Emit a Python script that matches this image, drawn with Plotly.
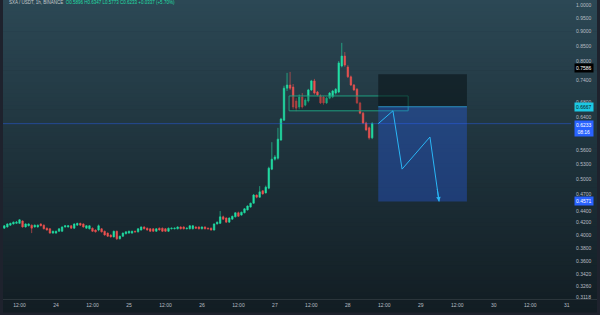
import plotly.graph_objects as go
import pandas as pd
import numpy as np

# ---------------- data (hourly candles) ----------------
open_ = [0.411,0.413,0.416,0.418,0.419,0.419,0.423,0.413,0.415,0.416,
         0.413,0.413,0.418,0.416,0.411,0.410,0.403,0.403,0.406,0.406,
         0.413,0.413,0.415,0.411,0.416,0.419,0.418,0.411,0.410,0.411,
         0.408,0.408,0.410,0.406,0.403,0.400,0.397,0.406,0.394,0.398,
         0.402,0.403,0.403,0.406,0.405,0.408,0.413,0.411,0.410,0.410,
         0.406,0.411,0.411,0.410,0.406,0.410,0.410,0.410,0.413,0.413,
         0.410,0.410,0.410,0.413,0.413,0.410,0.413,0.411,0.411,0.408,
         0.418,0.419,0.430,0.428,0.421,0.426,0.430,0.437,0.433,0.437,
         0.442,0.447,0.454,0.469,0.465,0.477,0.473,0.482,0.520,0.541,
         0.543,0.584,0.632,0.718,0.727,0.721,0.682,0.666,0.693,0.671,
         0.682,0.713,0.739,0.707,0.696,0.693,0.677,0.690,0.693,0.704,
         0.707,0.784,0.816,0.781,0.751,0.727,0.715,0.677,0.650,0.625,
         0.613,0.589]
high = [0.416,0.419,0.420,0.422,0.423,0.426,0.424,0.419,0.419,0.417,
        0.417,0.417,0.419,0.417,0.412,0.411,0.407,0.407,0.411,0.414,
        0.416,0.416,0.416,0.419,0.420,0.420,0.419,0.416,0.416,0.412,
        0.409,0.417,0.411,0.407,0.404,0.401,0.407,0.407,0.399,0.404,
        0.406,0.407,0.407,0.407,0.411,0.414,0.414,0.412,0.411,0.411,
        0.411,0.412,0.412,0.411,0.412,0.412,0.412,0.414,0.414,0.414,
        0.412,0.416,0.416,0.414,0.414,0.414,0.414,0.412,0.412,0.419,
        0.422,0.440,0.432,0.429,0.429,0.432,0.438,0.439,0.439,0.445,
        0.450,0.455,0.471,0.470,0.486,0.478,0.487,0.525,0.579,0.550,
        0.613,0.638,0.725,0.763,0.766,0.730,0.690,0.700,0.704,0.690,
        0.716,0.742,0.745,0.710,0.700,0.696,0.693,0.707,0.713,0.718,
        0.800,0.860,0.829,0.787,0.755,0.730,0.718,0.680,0.653,0.628,
        0.616,0.627]
low = [0.410,0.412,0.415,0.417,0.418,0.418,0.412,0.412,0.414,0.403,
       0.412,0.412,0.414,0.409,0.407,0.402,0.402,0.402,0.405,0.405,
       0.412,0.412,0.410,0.410,0.415,0.415,0.412,0.410,0.409,0.405,
       0.404,0.406,0.404,0.399,0.397,0.396,0.396,0.392,0.393,0.397,
       0.401,0.402,0.402,0.404,0.404,0.407,0.409,0.407,0.405,0.405,
       0.405,0.407,0.405,0.405,0.405,0.409,0.409,0.409,0.409,0.409,
       0.409,0.409,0.409,0.410,0.409,0.409,0.409,0.409,0.407,0.407,
       0.417,0.418,0.425,0.420,0.420,0.425,0.429,0.430,0.432,0.436,
       0.441,0.446,0.453,0.463,0.464,0.470,0.472,0.480,0.518,0.538,
       0.540,0.582,0.630,0.710,0.713,0.660,0.655,0.660,0.662,0.668,
       0.678,0.710,0.700,0.695,0.674,0.672,0.674,0.687,0.690,0.700,
       0.704,0.780,0.782,0.748,0.724,0.710,0.674,0.647,0.622,0.605,
       0.585,0.586]
close = [0.415,0.418,0.419,0.421,0.421,0.425,0.413,0.418,0.418,0.411,
         0.416,0.416,0.415,0.410,0.408,0.403,0.406,0.406,0.410,0.413,
         0.415,0.415,0.411,0.418,0.419,0.416,0.413,0.415,0.415,0.406,
         0.405,0.415,0.405,0.400,0.398,0.397,0.406,0.394,0.398,0.403,
         0.405,0.406,0.406,0.405,0.410,0.413,0.410,0.408,0.406,0.406,
         0.410,0.408,0.406,0.406,0.411,0.411,0.411,0.413,0.410,0.410,
         0.411,0.415,0.415,0.411,0.410,0.413,0.410,0.410,0.408,0.418,
         0.421,0.430,0.426,0.421,0.428,0.431,0.437,0.431,0.438,0.444,
         0.449,0.454,0.469,0.465,0.475,0.471,0.484,0.522,0.541,0.546,
         0.586,0.635,0.718,0.727,0.718,0.666,0.663,0.693,0.666,0.685,
         0.713,0.739,0.704,0.699,0.677,0.677,0.690,0.704,0.710,0.715,
         0.794,0.816,0.787,0.751,0.727,0.713,0.677,0.650,0.625,0.608,
         0.589,0.6233]
times = pd.date_range("2024-01-23 07:00", periods=len(close), freq="h")

price_ticks = [1.0, 0.95, 0.90, 0.85, 0.80, 0.74, 0.68, 0.64, 0.60, 0.56, 0.53,
               0.50, 0.47, 0.44, 0.42, 0.40, 0.38, 0.36, 0.342, 0.326, 0.3118]
time_ticks = ["2024-01-23 12:00", "2024-01-24", "2024-01-24 12:00", "2024-01-25",
              "2024-01-25 12:00", "2024-01-26", "2024-01-26 12:00", "2024-01-27",
              "2024-01-27 12:00", "2024-01-28", "2024-01-28 12:00", "2024-01-29",
              "2024-01-29 12:00", "2024-01-30", "2024-01-30 12:00", "2024-01-31"]
time_labels = ["12:00", "24", "12:00", "25", "12:00", "26", "12:00", "27",
               "12:00", "28", "12:00", "29", "12:00", "30", "12:00", "31"]

# drawings
zone_time = ["2024-01-27 04:40", "2024-01-28 19:50"]
zone_price = [0.656, 0.696]
pos_time = ["2024-01-28 10:00", "2024-01-29 15:10"]
stop_price, entry_price, target_price = 0.7586, 0.6667, 0.4571
path_time = ["2024-01-28 10:00", "2024-01-28 14:50", "2024-01-28 17:50",
             "2024-01-29 03:00", "2024-01-29 06:00"]
path_price = [0.6233, 0.656, 0.520, 0.591, 0.4571]
last_price = 0.6233
countdown = "08:16"
header_left = "SXA / USDT, 1h, BINANCE"
header_right = "O0.5896 H0.6347 L0.5773 C0.6233 +0.0337 (+5.70%)"

GREEN = "#22dfa5"
RED = "#ef5350"
FONT = "Liberation Sans"

fig = go.Figure()

def rect(t0, t1, p0, p1, fill, line_color=None, lw=0):
    fig.add_trace(go.Scatter(
        x=[t0, t1, t1, t0, t0], y=[p0, p0, p1, p1, p0], mode="lines",
        fill="toself", fillcolor=fill,
        line=dict(color=line_color or "rgba(0,0,0,0)", width=lw),
        hoverinfo="skip", showlegend=False))

# green zone rectangle
rect(zone_time[0], zone_time[1], zone_price[0], zone_price[1],
     "rgba(5,15,20,0.25)", "#1f9e7f", 1)
# position tool
rect(pos_time[0], pos_time[1], entry_price, stop_price, "rgba(8,16,20,0.55)")
rect(pos_time[0], pos_time[1], target_price, entry_price, "rgba(41,98,255,0.32)")
fig.add_trace(go.Scatter(x=pos_time, y=[entry_price, entry_price], mode="lines",
                         line=dict(color="#2a8fc0", width=1), hoverinfo="skip",
                         showlegend=False))
# last price line
fig.add_trace(go.Scatter(x=["2024-01-23 00:00", "2024-01-31 12:00"],
                         y=[last_price, last_price], mode="lines",
                         line=dict(color="rgba(41,98,255,0.55)", width=0.8),
                         hoverinfo="skip", showlegend=False))

fig.add_trace(go.Candlestick(
    x=times, open=open_, high=high, low=low, close=close,
    increasing=dict(line=dict(color=GREEN, width=0.6), fillcolor=GREEN),
    decreasing=dict(line=dict(color=RED, width=0.6), fillcolor=RED),
    whiskerwidth=0, showlegend=False))

# projected path
fig.add_trace(go.Scatter(x=path_time, y=path_price, mode="lines",
                         line=dict(color="#29b6f6", width=1), hoverinfo="skip",
                         showlegend=False))
fig.add_annotation(x=path_time[-1], y=np.log10(path_price[-1]), xref="x", yref="y",
                   showarrow=True, ax=-2, ay=-14, arrowhead=2, arrowsize=0.9,
                   arrowwidth=1, arrowcolor="#29b6f6", text="", standoff=0)

# background gradient (styling)
stops = [(0.0, (44, 72, 85)), (0.5, (30, 50, 59)), (1.0, (18, 29, 35))]
def grad(f):
    for (a, ca), (b, cb) in zip(stops[:-1], stops[1:]):
        if a <= f <= b:
            t = (f - a) / (b - a)
            return tuple(int(round(ca[k] + (cb[k] - ca[k]) * t)) for k in range(3))
    return stops[-1][1]

PW, PH, L, T = 568, 299, 3, 0
def px_x(px):
    return (px - L) / PW
def px_y(py):
    return (PH + T - py) / PH

shapes = []
N = 80
for i in range(N):
    y0p = 312 * i / N
    y1p = 312 * (i + 1) / N + 0.6
    c = grad((i + 0.5) / N)
    shapes.append(dict(type="rect", xref="paper", yref="paper",
                       x0=px_x(3), x1=px_x(597), y0=px_y(y1p), y1=px_y(y0p),
                       fillcolor="rgb(%d,%d,%d)" % c, line=dict(width=0),
                       layer="below"))
# separator line above time axis
shapes.append(dict(type="line", xref="paper", yref="paper", x0=px_x(3), x1=px_x(597),
                   y0=px_y(299.5), y1=px_y(299.5),
                   line=dict(color="rgba(255,255,255,0.10)", width=1), layer="below"))

# price labels on axis
def plabel(p, text, bg, fg, yshift=0, yanchor="middle"):
    fig.add_annotation(x=1, xref="paper", y=np.log10(p), yref="y", xanchor="left",
                       yanchor=yanchor, xshift=3, yshift=yshift, showarrow=False,
                       text=text, bgcolor=bg, font=dict(color=fg, size=5, family=FONT),
                       borderpad=1, align="center")

plabel(stop_price, "0.7586", "#000000", "#ffffff", yshift=6)
plabel(entry_price, "0.6667", "#1cc8e3", "#0a1a22")
plabel(last_price, "%.4f<br>%s" % (last_price, countdown), "#2962ff", "#ffffff",
       yshift=3.5, yanchor="top")
plabel(target_price, "0.4571", "#2962ff", "#ffffff")

fig.add_annotation(x=px_x(7), y=px_y(2.8), xref="paper", yref="paper",
                   xanchor="left", yanchor="middle", showarrow=False,
                   text='<span style="color:#c3c8cc">%s</span>  '
                        '<span style="color:#22dfa5">%s</span>' % (header_left, header_right),
                   font=dict(size=4.5, family=FONT))

y_lo, y_hi = -0.5087, 0.00865
fig.update_layout(
    width=600, height=315,
    margin=dict(l=L, r=600 - L - PW, t=T, b=315 - PH - T),
    paper_bgcolor="#1e222d", plot_bgcolor="rgba(0,0,0,0)",
    shapes=shapes, showlegend=False, hovermode=False,
    xaxis=dict(type="date", range=["2024-01-23 06:34", "2024-01-31 01:24"],
               rangeslider=dict(visible=False), showgrid=False, zeroline=False,
               tickvals=time_ticks, ticktext=time_labels, ticks="",
               tickfont=dict(size=5, color="#b8bec4", family=FONT),
               ticklabelstandoff=2),
    yaxis=dict(type="log", range=[y_lo, y_hi], side="right", showgrid=False,
               zeroline=False, tickvals=price_ticks,
               ticktext=["%.4f" % v for v in price_ticks], ticks="",
               tickfont=dict(size=5, color="#b8bec4", family=FONT),
               ticklabelstandoff=4),
)

fig.write_html("out.html")
